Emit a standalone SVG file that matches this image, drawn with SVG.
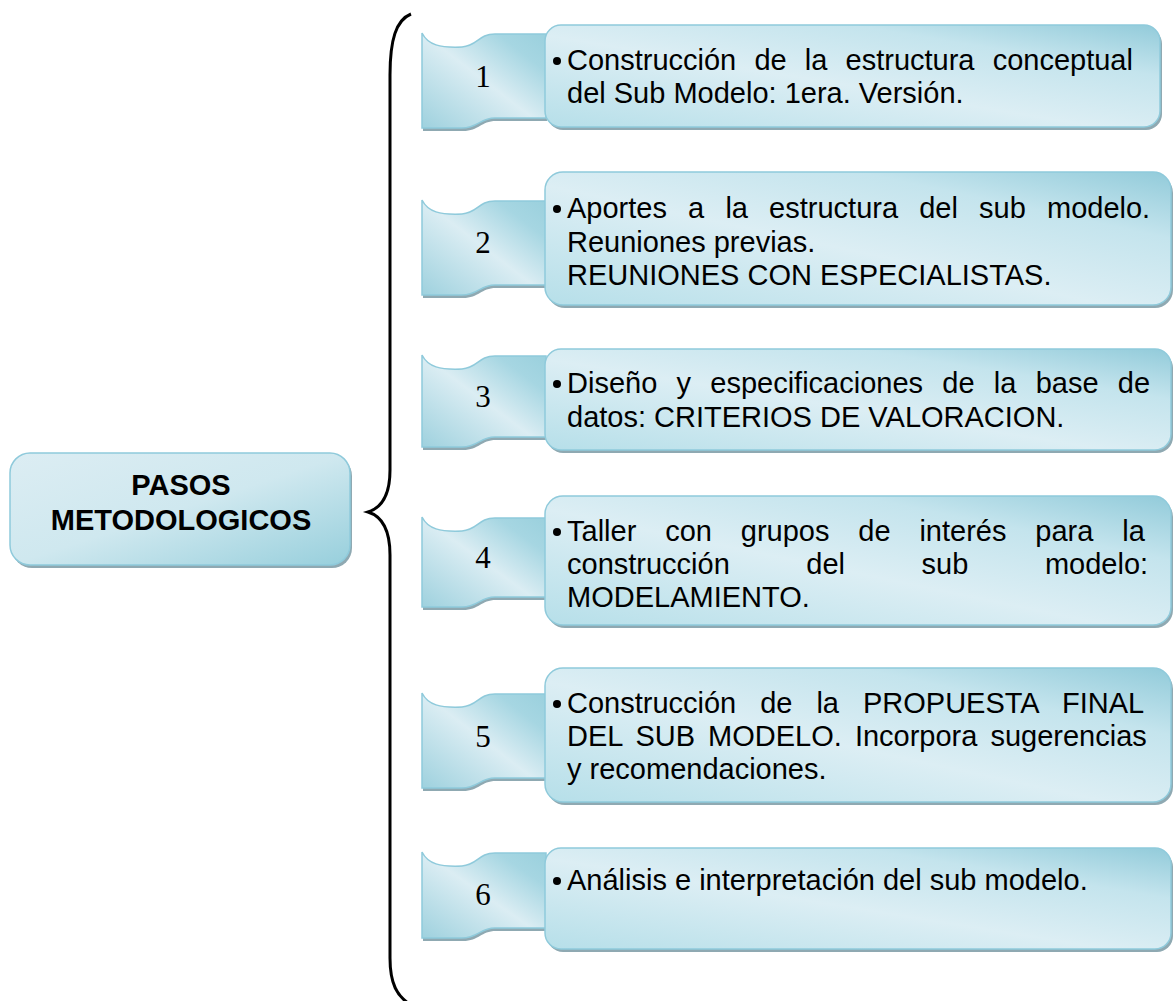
<svg xmlns="http://www.w3.org/2000/svg" width="1173" height="1001" viewBox="0 0 1173 1001">
<defs>
<linearGradient id="gBox" x1="0" y1="1" x2="1" y2="0">
<stop offset="0" stop-color="#b6dfe9"/>
<stop offset="0.45" stop-color="#dceef4"/>
<stop offset="0.75" stop-color="#c4e4ed"/>
<stop offset="1" stop-color="#92cbda"/>
</linearGradient>
<linearGradient id="gWave" x1="0" y1="1" x2="1" y2="0">
<stop offset="0" stop-color="#9ed1de"/>
<stop offset="0.5" stop-color="#dbedf3"/>
<stop offset="0.8" stop-color="#a6d6e2"/>
<stop offset="1" stop-color="#9ad0dd"/>
</linearGradient>
<linearGradient id="gMain" x1="0" y1="0" x2="1" y2="1">
<stop offset="0" stop-color="#dcedf3"/>
<stop offset="0.5" stop-color="#cfe8ef"/>
<stop offset="1" stop-color="#97cfdc"/>
</linearGradient>
</defs>
<style>
.box{fill:url(#gBox);stroke:#8fcadb;stroke-width:1.5}
.wave{fill:url(#gWave);stroke:#8fcadb;stroke-width:1.5}
.shadow{fill:#8fa9b2}
.t{font-family:"Liberation Sans",Arial,sans-serif;font-size:29px;fill:#000}
.num{font-family:"Liberation Serif","Times New Roman",serif;font-size:31px;fill:#000;text-anchor:middle}
.b{font-family:"Liberation Sans",Arial,sans-serif;font-size:29px;font-weight:bold;fill:#000;text-anchor:middle}
.brace{fill:none;stroke:#000;stroke-width:3}
</style>

<g id="connectors">
<path class="brace" d="M 411 14 C 396 20, 390 40, 390 75 L 390 470 C 390 496, 381 508, 368 512 C 381 516, 390 528, 390 555 L 390 958 C 390 985, 398 996, 408 1003"/>
</g>

<g id="main">
<rect class="shadow" x="12" y="456" width="340" height="112" rx="20"/>
<rect x="10" y="453" width="340" height="112" rx="20" fill="url(#gMain)" stroke="#8fcadb" stroke-width="1.5"/>
<text class="b" x="181" y="495">PASOS</text>
<text class="b" x="181" y="530">METODOLOGICOS</text>
</g>

<g id="step1">
<path class="shadow" transform="translate(1,3)" d="M 422 33 C 428 45, 440 48, 462 47 C 478 46, 478 34, 495 34 L 546 34 L 546 118 L 495 118 C 480 118, 478 128, 462 128 L 422 128 Z"/>
<path class="wave" d="M 422 33 C 428 45, 440 48, 462 47 C 478 46, 478 34, 495 34 L 546 34 L 546 118 L 495 118 C 480 118, 478 128, 462 128 L 422 128 Z"/>
<text class="num" x="483" y="87">1</text>
<rect class="shadow" x="547" y="28" width="615" height="102" rx="16"/>
<rect class="box" x="545" y="25" width="615" height="102" rx="16"/>
<circle cx="557" cy="61" r="4"/>
<text class="t" x="567" y="70" style="word-spacing:10.1px">Construcción de la estructura conceptual</text>
<text class="t" x="567" y="103">del Sub Modelo: 1era. Versión.</text>
</g>

<g id="step2">
<path class="shadow" transform="translate(1,3)" d="M 422 200 C 428 212, 440 215, 462 214 C 478 213, 478 201, 495 201 L 546 201 L 546 285 L 495 285 C 480 285, 478 295, 462 295 L 422 295 Z"/>
<path class="wave" d="M 422 200 C 428 212, 440 215, 462 214 C 478 213, 478 201, 495 201 L 546 201 L 546 285 L 495 285 C 480 285, 478 295, 462 295 L 422 295 Z"/>
<text class="num" x="483" y="253">2</text>
<rect class="shadow" x="547" y="175" width="626" height="133" rx="18"/>
<rect class="box" x="545" y="172" width="626" height="133" rx="18"/>
<circle cx="557" cy="209" r="4"/>
<text class="t" x="567" y="218" style="word-spacing:13.1px">Aportes a la estructura del sub modelo.</text>
<text class="t" x="567" y="252">Reuniones previas.</text>
<text class="t" x="567" y="285">REUNIONES CON ESPECIALISTAS.</text>
</g>

<g id="step3">
<path class="shadow" transform="translate(1,3)" d="M 422 355 C 428 367, 440 370, 462 369 C 478 368, 478 356, 495 356 L 546 356 L 546 437 L 495 437 C 480 437, 478 447, 462 447 L 422 447 Z"/>
<path class="wave" d="M 422 355 C 428 367, 440 370, 462 369 C 478 368, 478 356, 495 356 L 546 356 L 546 437 L 495 437 C 480 437, 478 447, 462 447 L 422 447 Z"/>
<text class="num" x="483" y="407">3</text>
<rect class="shadow" x="547" y="352" width="626" height="101" rx="16"/>
<rect class="box" x="545" y="349" width="626" height="101" rx="16"/>
<circle cx="557" cy="384" r="4"/>
<text class="t" x="567" y="393" style="word-spacing:11.2px">Diseño y especificaciones de la base de</text>
<text class="t" x="567" y="427">datos: CRITERIOS DE VALORACION.</text>
</g>

<g id="step4">
<path class="shadow" transform="translate(1,3)" d="M 422 517 C 428 529, 440 532, 462 531 C 478 530, 478 518, 495 518 L 546 518 L 546 597 L 495 597 C 480 597, 478 607, 462 607 L 422 607 Z"/>
<path class="wave" d="M 422 517 C 428 529, 440 532, 462 531 C 478 530, 478 518, 495 518 L 546 518 L 546 597 L 495 597 C 480 597, 478 607, 462 607 L 422 607 Z"/>
<text class="num" x="483" y="568">4</text>
<rect class="shadow" x="547" y="499" width="626" height="129" rx="18"/>
<rect class="box" x="545" y="496" width="626" height="129" rx="18"/>
<circle cx="557" cy="532" r="4"/>
<text class="t" x="567" y="541" style="word-spacing:20.8px">Taller con grupos de interés para la</text>
<text class="t" x="567" y="574" style="word-spacing:68.5px">construcción del sub modelo:</text>
<text class="t" x="567" y="607">MODELAMIENTO.</text>
</g>

<g id="step5">
<path class="shadow" transform="translate(1,3)" d="M 422 693 C 428 705, 440 708, 462 707 C 478 706, 478 694, 495 694 L 546 694 L 546 778 L 495 778 C 480 778, 478 788, 462 788 L 422 788 Z"/>
<path class="wave" d="M 422 693 C 428 705, 440 708, 462 707 C 478 706, 478 694, 495 694 L 546 694 L 546 778 L 495 778 C 480 778, 478 788, 462 788 L 422 788 Z"/>
<text class="num" x="483" y="747">5</text>
<rect class="shadow" x="547" y="671" width="626" height="134" rx="18"/>
<rect class="box" x="545" y="668" width="626" height="134" rx="18"/>
<circle cx="557" cy="704" r="4"/>
<text class="t" x="567" y="713" style="word-spacing:15.9px">Construcción de la PROPUESTA FINAL</text>
<text class="t" x="567" y="746" style="word-spacing:5px">DEL SUB MODELO. Incorpora sugerencias</text>
<text class="t" x="567" y="779">y recomendaciones.</text>
</g>

<g id="step6">
<path class="shadow" transform="translate(1,3)" d="M 422 852 C 428 864, 440 867, 462 866 C 478 865, 478 853, 495 853 L 546 853 L 546 928 L 495 928 C 480 928, 478 938, 462 938 L 422 938 Z"/>
<path class="wave" d="M 422 852 C 428 864, 440 867, 462 866 C 478 865, 478 853, 495 853 L 546 853 L 546 928 L 495 928 C 480 928, 478 938, 462 938 L 422 938 Z"/>
<text class="num" x="483" y="905">6</text>
<rect class="shadow" x="547" y="851" width="626" height="101" rx="16"/>
<rect class="box" x="545" y="848" width="626" height="101" rx="16"/>
<circle cx="557" cy="881" r="4"/>
<text class="t" x="567" y="890">Análisis e interpretación del sub modelo.</text>
</g>
</svg>
